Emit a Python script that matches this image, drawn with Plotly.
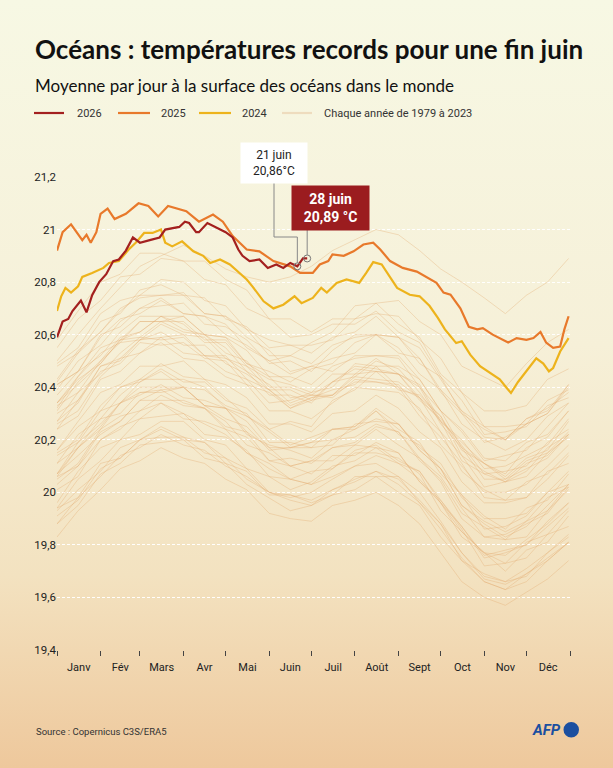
import base64
import plotly.graph_objects as go

# ---------------- DATA ----------------
months = ["Janv", "Fév", "Mars", "Avr", "Mai", "Juin", "Juil", "Août", "Sept", "Oct", "Nov", "Déc"]
month_starts = [1, 32, 60, 91, 121, 152, 182, 213, 244, 274, 305, 335, 366]
y_ticks = [19.4, 19.6, 19.8, 20.0, 20.2, 20.4, 20.6, 20.8, 21.0, 21.2]
y_tick_text = ["19,4", "19,6", "19,8", "20", "20,2", "20,4", "20,6", "20,8", "21", "21,2"]

d2026 = [1, 5, 9, 12, 18, 22, 26, 31, 36, 41, 45, 50, 55, 60, 67, 74, 78, 86, 88, 92, 95, 100, 102,
         108, 114, 121, 126, 130, 133, 138, 145, 151, 157, 162, 167, 172, 176, 179]
v2026 = [20.59, 20.65, 20.66, 20.69, 20.73, 20.685, 20.75, 20.80, 20.83, 20.88, 20.886, 20.92, 20.97,
         20.95, 20.96, 20.97, 21.00, 21.01, 21.01, 21.03, 21.025, 20.99, 20.99, 21.025, 21.01, 20.99,
         20.97, 20.924, 20.90, 20.88, 20.886, 20.854, 20.867, 20.854, 20.873, 20.86, 20.89, 20.89]

d2025 = [1, 5, 11, 16, 19, 22, 25, 29, 32, 37, 42, 50, 59, 66, 73, 80, 86, 88, 93, 102, 112, 119,
         126, 136, 145, 155, 167, 174, 183, 188, 194, 197, 205, 212, 219, 226, 231, 238, 247, 257,
         264, 271, 276, 281, 288, 294, 300, 304, 311, 316, 322, 328, 335, 340, 345, 349, 354, 359,
         362, 365]
v2025 = [20.92, 20.99, 21.02, 20.98, 20.96, 20.98, 20.95, 20.99, 21.06, 21.08, 21.04, 21.06, 21.10,
         21.09, 21.05, 21.09, 21.08, 21.076, 21.07, 21.03, 21.057, 21.03, 20.975, 20.924, 20.917,
         20.88, 20.86, 20.835, 20.835, 20.867, 20.88, 20.905, 20.90, 20.917, 20.943, 20.95, 20.924,
         20.88, 20.854, 20.84, 20.82, 20.797, 20.76, 20.752, 20.70, 20.63, 20.62, 20.625, 20.60,
         20.587, 20.57, 20.587, 20.58, 20.587, 20.61, 20.57, 20.55, 20.555, 20.62, 20.67]

d2024 = [1, 4, 7, 11, 16, 19, 26, 34, 38, 45, 52, 57, 63, 69, 75, 78, 83, 90, 98, 105, 110, 117,
         124, 131, 136, 140, 148, 155, 162, 170, 175, 183, 189, 193, 200, 207, 216, 221, 226, 232,
         238, 243, 252, 259, 266, 272, 277, 285, 289, 295, 302, 309, 316, 321, 324, 329, 334, 339,
         342, 347, 351, 354, 359, 365]
v2024 = [20.69, 20.746, 20.778, 20.76, 20.784, 20.82, 20.835, 20.854, 20.873, 20.88, 20.924, 20.95,
         20.987, 20.987, 21.00, 20.95, 20.936, 20.955, 20.917, 20.90, 20.873, 20.886, 20.867, 20.835,
         20.81, 20.784, 20.727, 20.70, 20.714, 20.746, 20.72, 20.74, 20.778, 20.76, 20.797, 20.81,
         20.797, 20.835, 20.876, 20.867, 20.82, 20.778, 20.752, 20.746, 20.71, 20.664, 20.62, 20.568,
         20.575, 20.524, 20.48, 20.454, 20.43, 20.397, 20.378, 20.42, 20.454, 20.49, 20.51, 20.49,
         20.46, 20.473, 20.536, 20.587]

hist_days = [1, 16, 32, 46, 60, 75, 91, 106, 121, 136, 152, 167, 182, 197, 213, 228, 244, 259, 274,
             289, 305, 320, 335, 350, 365]

t1979 = [19.88, 19.95, 20.07, 20.11, 20.18, 20.19, 20.20, 20.13, 20.11, 20.03, 19.98, 19.93, 19.95, 19.99, 20.01, 20.06, 20.00, 19.95, 19.83, 19.74, 19.66, 19.63, 19.66, 19.74, 19.81]
t1980 = [19.93, 20.01, 20.08, 20.17, 20.20, 20.25, 20.21, 20.19, 20.13, 20.09, 20.00, 19.99, 19.97, 20.01, 20.04, 20.08, 20.03, 19.96, 19.86, 19.75, 19.66, 19.63, 19.69, 19.74, 19.81]
t1981 = [19.91, 19.97, 20.09, 20.13, 20.20, 20.21, 20.21, 20.15, 20.13, 20.05, 20.00, 19.97, 19.95, 20.01, 20.05, 20.08, 20.05, 19.97, 19.88, 19.77, 19.68, 19.66, 19.71, 19.77, 19.84]
t1982 = [19.88, 19.98, 20.06, 20.14, 20.17, 20.22, 20.18, 20.16, 20.10, 20.06, 20.00, 19.98, 20.00, 20.05, 20.10, 20.14, 20.11, 20.05, 19.96, 19.85, 19.77, 19.76, 19.82, 19.88, 19.96]
t1983 = [20.03, 20.10, 20.20, 20.24, 20.31, 20.34, 20.30, 20.26, 20.22, 20.15, 20.09, 20.05, 20.03, 20.06, 20.10, 20.11, 20.06, 20.00, 19.89, 19.77, 19.67, 19.65, 19.69, 19.75, 19.81]
t1984 = [19.83, 19.93, 20.01, 20.09, 20.12, 20.17, 20.13, 20.11, 20.05, 20.01, 19.92, 19.90, 19.89, 19.95, 19.97, 20.00, 19.95, 19.88, 19.77, 19.66, 19.60, 19.57, 19.62, 19.67, 19.74]
t1985 = [19.94, 19.98, 20.11, 20.13, 20.20, 20.24, 20.20, 20.19, 20.11, 20.08, 19.99, 19.99, 19.96, 19.99, 20.06, 20.06, 20.06, 19.96, 19.88, 19.74, 19.69, 19.66, 19.68, 19.77, 19.83]
t1986 = [19.94, 20.05, 20.12, 20.20, 20.22, 20.27, 20.27, 20.20, 20.18, 20.09, 20.06, 20.01, 20.04, 20.10, 20.12, 20.17, 20.11, 20.08, 19.96, 19.87, 19.76, 19.78, 19.80, 19.89, 19.96]
t1987 = [20.06, 20.10, 20.23, 20.27, 20.35, 20.35, 20.35, 20.32, 20.24, 20.21, 20.12, 20.13, 20.11, 20.17, 20.19, 20.25, 20.23, 20.12, 20.05, 19.92, 19.87, 19.82, 19.89, 19.93, 20.03]
t1988 = [20.11, 20.17, 20.25, 20.34, 20.37, 20.41, 20.36, 20.35, 20.32, 20.23, 20.17, 20.10, 20.12, 20.12, 20.18, 20.17, 20.15, 20.04, 19.97, 19.86, 19.72, 19.73, 19.75, 19.84, 19.87]
t1989 = [19.96, 20.08, 20.17, 20.20, 20.28, 20.29, 20.30, 20.22, 20.21, 20.16, 20.06, 20.05, 20.03, 20.09, 20.15, 20.15, 20.13, 20.07, 19.93, 19.85, 19.77, 19.73, 19.81, 19.84, 19.93]
t1990 = [20.05, 20.11, 20.24, 20.29, 20.31, 20.37, 20.33, 20.32, 20.27, 20.18, 20.15, 20.10, 20.12, 20.17, 20.18, 20.24, 20.18, 20.13, 20.04, 19.90, 19.83, 19.82, 19.83, 19.93, 20.01]
t1991 = [20.07, 20.17, 20.24, 20.34, 20.38, 20.38, 20.40, 20.33, 20.28, 20.25, 20.16, 20.17, 20.17, 20.18, 20.26, 20.27, 20.26, 20.16, 20.09, 19.99, 19.86, 19.87, 19.91, 20.00, 20.03]
t1992 = [20.07, 20.14, 20.22, 20.27, 20.35, 20.39, 20.34, 20.32, 20.25, 20.23, 20.12, 20.10, 20.07, 20.14, 20.14, 20.19, 20.15, 20.04, 19.96, 19.83, 19.77, 19.70, 19.78, 19.81, 19.91]
t1993 = [20.01, 20.06, 20.20, 20.25, 20.28, 20.34, 20.28, 20.27, 20.24, 20.15, 20.11, 20.05, 20.08, 20.09, 20.16, 20.18, 20.12, 20.08, 19.97, 19.87, 19.75, 19.77, 19.80, 19.87, 19.94]
t1994 = [20.07, 20.19, 20.26, 20.34, 20.40, 20.40, 20.40, 20.33, 20.32, 20.27, 20.17, 20.17, 20.19, 20.20, 20.24, 20.31, 20.24, 20.19, 20.07, 19.99, 19.91, 19.86, 19.94, 19.97, 20.07]
t1995 = [20.16, 20.25, 20.31, 20.40, 20.43, 20.49, 20.44, 20.43, 20.36, 20.29, 20.24, 20.18, 20.21, 20.24, 20.25, 20.31, 20.22, 20.18, 20.09, 19.95, 19.88, 19.83, 19.87, 19.95, 20.03]
t1996 = [20.06, 20.17, 20.28, 20.30, 20.38, 20.39, 20.40, 20.33, 20.32, 20.22, 20.18, 20.16, 20.13, 20.20, 20.21, 20.26, 20.23, 20.13, 20.06, 19.94, 19.83, 19.84, 19.88, 19.92, 20.02]
t1997 = [20.15, 20.20, 20.33, 20.40, 20.42, 20.47, 20.42, 20.42, 20.35, 20.32, 20.24, 20.27, 20.25, 20.35, 20.39, 20.46, 20.39, 20.37, 20.29, 20.16, 20.11, 20.07, 20.17, 20.21, 20.31]
t1998 = [20.32, 20.44, 20.53, 20.57, 20.65, 20.65, 20.65, 20.58, 20.58, 20.49, 20.44, 20.36, 20.37, 20.36, 20.43, 20.42, 20.40, 20.29, 20.21, 20.11, 19.98, 19.97, 19.98, 20.08, 20.11]
t1999 = [20.14, 20.19, 20.31, 20.34, 20.42, 20.46, 20.40, 20.39, 20.33, 20.30, 20.19, 20.19, 20.17, 20.24, 20.24, 20.28, 20.26, 20.16, 20.09, 19.95, 19.89, 19.85, 19.89, 19.98, 20.02]
t2000 = [20.11, 20.22, 20.28, 20.37, 20.43, 20.43, 20.43, 20.40, 20.32, 20.29, 20.23, 20.17, 20.19, 20.24, 20.25, 20.32, 20.26, 20.17, 20.11, 19.98, 19.90, 19.90, 19.92, 20.00, 20.08]
t2001 = [20.24, 20.29, 20.43, 20.46, 20.53, 20.57, 20.51, 20.50, 20.44, 20.41, 20.31, 20.31, 20.28, 20.34, 20.40, 20.39, 20.38, 20.32, 20.18, 20.10, 20.00, 20.00, 20.03, 20.10, 20.18]
t2002 = [20.24, 20.35, 20.46, 20.49, 20.57, 20.56, 20.57, 20.51, 20.50, 20.41, 20.38, 20.32, 20.36, 20.37, 20.45, 20.46, 20.45, 20.35, 20.28, 20.18, 20.07, 20.08, 20.10, 20.19, 20.24]
t2003 = [20.33, 20.38, 20.50, 20.57, 20.58, 20.64, 20.60, 20.59, 20.51, 20.48, 20.39, 20.39, 20.35, 20.42, 20.47, 20.46, 20.45, 20.36, 20.29, 20.14, 20.08, 20.04, 20.11, 20.14, 20.22]
t2004 = [20.27, 20.38, 20.45, 20.53, 20.59, 20.58, 20.59, 20.52, 20.52, 20.43, 20.39, 20.33, 20.36, 20.39, 20.41, 20.48, 20.40, 20.36, 20.27, 20.12, 20.07, 20.04, 20.08, 20.17, 20.22]
t2005 = [20.34, 20.43, 20.49, 20.58, 20.61, 20.67, 20.62, 20.60, 20.53, 20.50, 20.40, 20.40, 20.37, 20.42, 20.48, 20.47, 20.45, 20.40, 20.26, 20.17, 20.05, 20.05, 20.09, 20.13, 20.22]
t2006 = [20.27, 20.34, 20.48, 20.51, 20.58, 20.59, 20.60, 20.52, 20.51, 20.46, 20.37, 20.37, 20.34, 20.42, 20.44, 20.50, 20.47, 20.38, 20.27, 20.20, 20.09, 20.10, 20.14, 20.18, 20.28]
t2007 = [20.34, 20.41, 20.49, 20.58, 20.59, 20.65, 20.61, 20.60, 20.55, 20.46, 20.41, 20.34, 20.37, 20.37, 20.42, 20.42, 20.41, 20.31, 20.23, 20.08, 20.01, 19.97, 20.04, 20.07, 20.15]
t2008 = [20.16, 20.27, 20.38, 20.41, 20.48, 20.48, 20.50, 20.43, 20.41, 20.36, 20.26, 20.26, 20.23, 20.30, 20.31, 20.37, 20.32, 20.23, 20.17, 20.04, 19.96, 19.96, 19.98, 20.05, 20.14]
t2009 = [20.26, 20.31, 20.44, 20.51, 20.53, 20.59, 20.53, 20.52, 20.46, 20.43, 20.34, 20.35, 20.38, 20.40, 20.49, 20.48, 20.48, 20.43, 20.31, 20.23, 20.12, 20.14, 20.16, 20.25, 20.34]
t2010 = [20.43, 20.54, 20.61, 20.69, 20.75, 20.75, 20.75, 20.68, 20.67, 20.59, 20.54, 20.46, 20.48, 20.46, 20.52, 20.52, 20.51, 20.40, 20.31, 20.17, 20.11, 20.05, 20.12, 20.15, 20.23]
t2011 = [20.30, 20.35, 20.48, 20.50, 20.58, 20.61, 20.56, 20.56, 20.49, 20.45, 20.39, 20.32, 20.35, 20.37, 20.44, 20.43, 20.42, 20.36, 20.23, 20.14, 20.02, 20.04, 20.06, 20.15, 20.21]
t2012 = [20.31, 20.42, 20.50, 20.59, 20.61, 20.67, 20.64, 20.57, 20.57, 20.48, 20.43, 20.41, 20.38, 20.45, 20.45, 20.51, 20.45, 20.41, 20.27, 20.19, 20.11, 20.06, 20.13, 20.16, 20.27]
t2013 = [20.37, 20.46, 20.52, 20.61, 20.67, 20.67, 20.67, 20.60, 20.59, 20.54, 20.44, 20.44, 20.41, 20.48, 20.51, 20.52, 20.52, 20.43, 20.31, 20.24, 20.13, 20.12, 20.19, 20.22, 20.31]
t2014 = [20.34, 20.44, 20.55, 20.58, 20.65, 20.65, 20.67, 20.60, 20.59, 20.49, 20.46, 20.42, 20.47, 20.49, 20.57, 20.60, 20.53, 20.51, 20.38, 20.30, 20.19, 20.21, 20.26, 20.30, 20.41]
t2015 = [20.41, 20.46, 20.59, 20.66, 20.68, 20.73, 20.68, 20.67, 20.60, 20.56, 20.50, 20.52, 20.57, 20.61, 20.71, 20.72, 20.73, 20.65, 20.60, 20.48, 20.44, 20.40, 20.49, 20.57, 20.62]
t2016 = [20.58, 20.69, 20.80, 20.83, 20.91, 20.91, 20.88, 20.88, 20.81, 20.77, 20.66, 20.66, 20.61, 20.66, 20.66, 20.72, 20.64, 20.59, 20.45, 20.38, 20.25, 20.25, 20.26, 20.35, 20.39]
t2017 = [20.49, 20.55, 20.68, 20.73, 20.75, 20.81, 20.80, 20.73, 20.71, 20.62, 20.58, 20.56, 20.53, 20.59, 20.61, 20.67, 20.59, 20.55, 20.43, 20.31, 20.25, 20.20, 20.28, 20.32, 20.38]
t2018 = [20.39, 20.50, 20.56, 20.65, 20.70, 20.71, 20.72, 20.64, 20.63, 20.58, 20.49, 20.50, 20.46, 20.54, 20.60, 20.60, 20.59, 20.49, 20.44, 20.30, 20.24, 20.20, 20.28, 20.31, 20.41]
t2019 = [20.48, 20.53, 20.65, 20.68, 20.77, 20.79, 20.75, 20.74, 20.66, 20.63, 20.55, 20.56, 20.56, 20.58, 20.66, 20.68, 20.67, 20.58, 20.51, 20.38, 20.31, 20.31, 20.33, 20.43, 20.47]
t2020 = [20.55, 20.66, 20.73, 20.82, 20.83, 20.89, 20.88, 20.81, 20.79, 20.70, 20.66, 20.59, 20.60, 20.64, 20.64, 20.69, 20.61, 20.57, 20.44, 20.35, 20.22, 20.23, 20.25, 20.33, 20.36]
t2021 = [20.41, 20.46, 20.60, 20.63, 20.70, 20.74, 20.68, 20.67, 20.64, 20.55, 20.50, 20.45, 20.48, 20.51, 20.53, 20.60, 20.55, 20.45, 20.39, 20.26, 20.20, 20.16, 20.20, 20.29, 20.34]
t2022 = [20.42, 20.53, 20.61, 20.70, 20.74, 20.75, 20.76, 20.68, 20.67, 20.62, 20.52, 20.52, 20.49, 20.56, 20.59, 20.60, 20.59, 20.51, 20.39, 20.31, 20.21, 20.20, 20.26, 20.30, 20.40]
t2023 = [20.50, 20.60, 20.70, 20.78, 20.86, 20.90, 20.94, 20.90, 20.85, 20.82, 20.80, 20.82, 20.86, 20.92, 20.96, 21.00, 20.98, 20.92, 20.85, 20.80, 20.74, 20.68, 20.75, 20.80, 20.89]

hist_series = [t1979, t1980, t1981, t1982, t1983, t1984, t1985, t1986, t1987, t1988, t1989, t1990,
               t1991, t1992, t1993, t1994, t1995, t1996, t1997, t1998, t1999, t2000, t2001, t2002,
               t2003, t2004, t2005, t2006, t2007, t2008, t2009, t2010, t2011, t2012, t2013, t2014,
               t2015, t2016, t2017, t2018, t2019, t2020, t2021, t2022, t2023]

# ---------------- LAYOUT HELPERS ----------------
W, H = 613, 768
L, R, T, B = 57, 43, 177, 118
PW, PH = W - L - R, H - T - B
X0, X1 = 1, 366
Y0, Y1 = 19.4, 21.2

def px_x(px):
    return (px - L) / PW

def px_y(py):
    return 1 - (py - T) / PH

def dx(day):
    return (day - X0) / (X1 - X0)

def dy(val):
    return (val - Y0) / (Y1 - Y0)

C2026 = "#A3201F"
C2025 = "#E8792B"
C2024 = "#EDB31C"
CHIST = "rgba(226,172,112,0.45)"
LEGHIST = "#EEDCBE"
TXT = "#222222"
FONT = "Roboto, sans-serif"
TFONT = "Lato, Noto Sans, sans-serif"

fig = go.Figure()

for s in hist_series:
    fig.add_trace(go.Scatter(x=hist_days, y=s, mode="lines",
                             line=dict(color=CHIST, width=0.8), hoverinfo="skip", showlegend=False))

fig.add_trace(go.Scatter(x=d2024, y=v2024, mode="lines", line=dict(color=C2024, width=2.2), showlegend=False))
fig.add_trace(go.Scatter(x=d2025, y=v2025, mode="lines", line=dict(color=C2025, width=2.2), showlegend=False))
fig.add_trace(go.Scatter(x=d2026, y=v2026, mode="lines", line=dict(color=C2026, width=2.2), showlegend=False))

day_a, day_b = 172, 179
val_a = v2026[d2026.index(day_a)]
val_b = v2026[d2026.index(day_b)]
fig.add_trace(go.Scatter(x=[day_a, day_b], y=[val_a, val_b], mode="markers",
                         marker=dict(symbol="circle-open", size=7, color="#777777", line=dict(width=1)),
                         showlegend=False, hoverinfo="skip"))

svg = ('<svg xmlns="http://www.w3.org/2000/svg" width="613" height="768" preserveAspectRatio="none">'
       '<defs><linearGradient id="g" x1="0" y1="0" x2="0" y2="1">'
       '<stop offset="0" stop-color="#F7F8E4"/>'
       '<stop offset="0.45" stop-color="#F6F0D8"/>'
       '<stop offset="0.75" stop-color="#F3E2C0"/>'
       '<stop offset="1" stop-color="#EEC89C"/>'
       '</linearGradient></defs><rect width="613" height="768" fill="url(#g)"/></svg>')
src = "data:image/svg+xml;base64," + base64.b64encode(svg.encode()).decode()

shapes = []
annotations = []

leg = [(34, 64, 75, C2026, "2026"), (118, 150, 159, C2025, "2025"), (199, 231, 240, C2024, "2024"),
       (282, 312, 322, LEGHIST, "Chaque année de 1979 à 2023")]
for x0p, x1p, xt, col, lab in leg:
    shapes.append(dict(type="line", xref="paper", yref="paper", x0=px_x(x0p), x1=px_x(x1p),
                       y0=px_y(113), y1=px_y(113), line=dict(color=col, width=2.2)))
    annotations.append(dict(text=lab, xref="paper", yref="paper", x=px_x(xt), y=px_y(113),
                            xanchor="left", yanchor="middle", showarrow=False,
                            font=dict(family=FONT, size=11, color="#333333")))

annotations.append(dict(text="<b>Océans : températures records pour une fin juin</b>", xref="paper", yref="paper",
                        x=px_x(33), y=px_y(49), xanchor="left", yanchor="middle", showarrow=False,
                        font=dict(family=TFONT, size=26, color="#111111")))
annotations.append(dict(text="Moyenne par jour à la surface des océans dans le monde", xref="paper", yref="paper",
                        x=px_x(33), y=px_y(85), xanchor="left", yanchor="middle", showarrow=False,
                        font=dict(family=TFONT, size=17, color="#111111")))

annotations.append(dict(text="21 juin<br>20,86°C", xref="paper", yref="paper", x=px_x(274), y=px_y(163),
                        xanchor="center", yanchor="middle", showarrow=False, width=64, height=38,
                        bgcolor="#FFFFFF", font=dict(family=FONT, size=12, color=TXT)))
annotations.append(dict(text="<b>28 juin<br>20,89 °C</b>", xref="paper", yref="paper", x=px_x(330.5), y=px_y(208),
                        xanchor="center", yanchor="middle", showarrow=False, width=75, height=42,
                        bgcolor="#9B1C1F", font=dict(family=FONT, size=14, color="#FFFFFF")))

r_pt = 3.5 / PH
path1 = "M {} {} L {} {} L {} {} L {} {}".format(
    px_x(274), px_y(182), px_x(274), px_y(237), dx(day_a), px_y(237), dx(day_a), dy(val_a) + r_pt)
shapes.append(dict(type="path", xref="paper", yref="paper", path=path1, line=dict(color="#888888", width=1)))
path2 = "M {} {} L {} {}".format(dx(day_b), px_y(229), dx(day_b), dy(val_b) + r_pt)
shapes.append(dict(type="path", xref="paper", yref="paper", path=path2, line=dict(color="#888888", width=1)))

annotations.append(dict(text="Source : Copernicus C3S/ERA5", xref="paper", yref="paper", x=px_x(34), y=px_y(731),
                        xanchor="left", yanchor="middle", showarrow=False,
                        font=dict(family=FONT, size=9.5, color="#333333")))
annotations.append(dict(text="<b><i>AFP</i></b>", xref="paper", yref="paper", x=px_x(563), y=px_y(730),
                        xanchor="right", yanchor="middle", showarrow=False,
                        font=dict(family="Roboto, sans-serif", size=15, color="#1B4FA0")))
shapes.append(dict(type="circle", xref="paper", yref="paper", x0=px_x(563.5), x1=px_x(579),
                   y0=px_y(737.5), y1=px_y(722), fillcolor="#1B4FA0", line=dict(width=0)))

mid_months = [(month_starts[i] + month_starts[i + 1]) / 2 for i in range(12)]

fig.update_layout(
    width=W, height=H, margin=dict(l=L, r=R, t=T, b=B, pad=0),
    paper_bgcolor="#F5EDD3", plot_bgcolor="rgba(0,0,0,0)",
    images=[dict(source=src, xref="paper", yref="paper", x=px_x(0), y=px_y(0),
                 sizex=W / PW, sizey=H / PH, xanchor="left", yanchor="top",
                 sizing="stretch", layer="below")],
    shapes=shapes, annotations=annotations, showlegend=False, hovermode=False,
    xaxis=dict(range=[X0, X1], tickmode="array", tickvals=mid_months, ticktext=months, ticks="",
               ticklabelstandoff=9,
               showgrid=False, zeroline=False, showline=False,
               tickfont=dict(family=FONT, size=11, color=TXT),
               minor=dict(tickmode="array", tickvals=month_starts, ticks="outside", ticklen=5,
                          tickcolor="#444444", tickwidth=1, showgrid=False)),
    yaxis=dict(range=[Y0, Y1], tickmode="array", tickvals=y_ticks, ticktext=y_tick_text, ticks="",
               showgrid=True, gridcolor="rgba(255,255,255,0.95)", gridwidth=1, griddash="3px,2px",
               zeroline=False, showline=False,
               tickfont=dict(family=FONT, size=11.5, color=TXT)),
)

fig.write_html("out.html")
